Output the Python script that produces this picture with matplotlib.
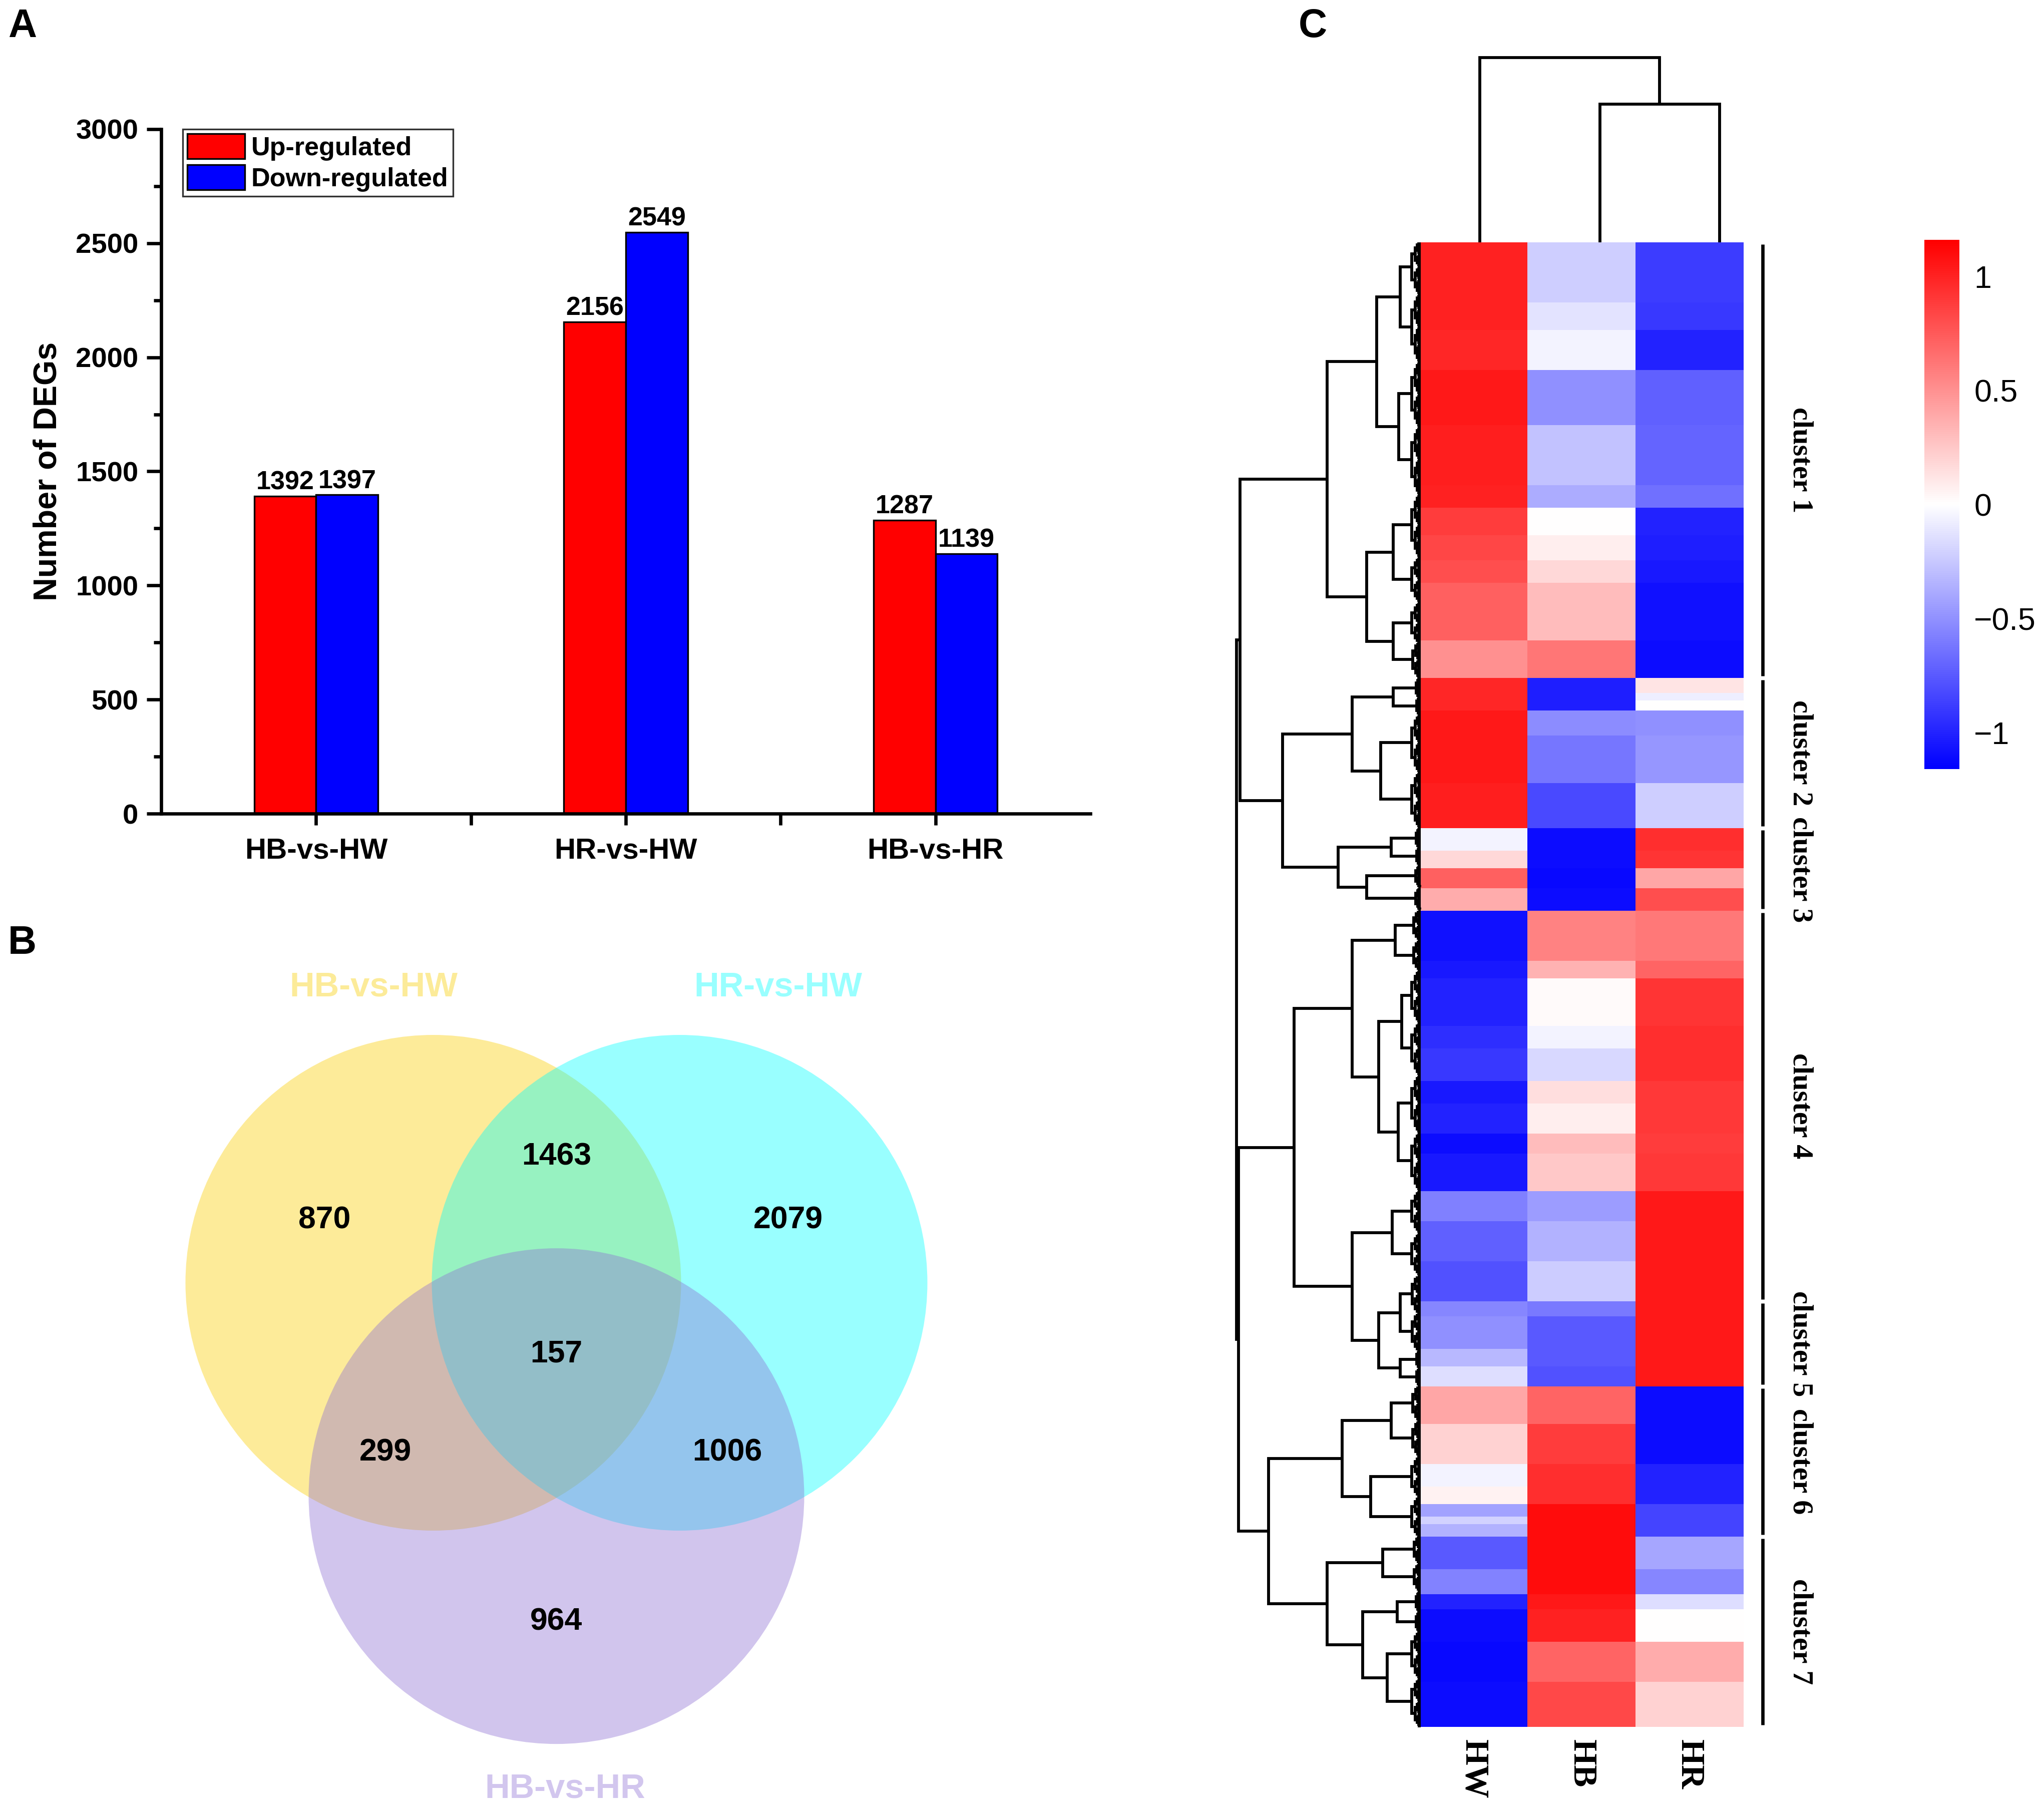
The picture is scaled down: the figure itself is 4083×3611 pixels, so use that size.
import numpy as np
import matplotlib
matplotlib.use('Agg')
import matplotlib.pyplot as plt
from matplotlib.patches import Circle
from matplotlib.collections import LineCollection

plt.rcParams['font.family'] = ['Liberation Sans', 'DejaVu Sans']
SERIF = ['Liberation Serif', 'DejaVu Serif']

# ---- A: number of DEGs per comparison
comparisons = ['HB-vs-HW', 'HR-vs-HW', 'HB-vs-HR']
up_regulated = [1392, 2156, 1287]
down_regulated = [1397, 2549, 1139]

# ---- B: venn (region membership -> count)
venn_labels = ['HB-vs-HW', 'HR-vs-HW', 'HB-vs-HR']
venn_regions = ['100', '010', '001', '110', '101', '011', '111']
venn_counts = [870, 2079, 964, 1463, 299, 1006, 157]

# ---- C: clustered heatmap (row blocks, scaled expression)
samples = ['HW', 'HB', 'HR']
block_rows = [24, 11, 16, 22, 24, 9, 11, 10, 9, 23, 15,
              6, 3, 4, 10, 19, 18,
              9, 7, 8, 9,
              20, 7, 19, 9, 13, 9, 12, 8, 15, 12, 16, 16,
              6, 13, 7, 8,
              15, 16, 9, 7, 5, 3, 5,
              13, 10, 6, 13, 16, 18]
hw_values = [1.0, 1.0, 0.98, 1.05, 1.02, 1.0, 0.88, 0.84, 0.8, 0.72, 0.5,
             0.98, 0.98, 0.98, 1.05, 1.05, 1.02,
             -0.05, 0.18, 0.72, 0.38,
             -1.08, -1.05, -1.0, -0.95, -0.9, -1.05, -1.0, -1.1, -1.05, -0.58, -0.72, -0.78,
             -0.55, -0.5, -0.32, -0.15,
             0.4, 0.2, -0.05, 0.06, -0.42, -0.2, -0.35,
             -0.75, -0.57, -1.0, -1.1, -1.12, -1.1]
hb_values = [-0.22, -0.12, -0.05, -0.5, -0.28, -0.38, 0.0, 0.08, 0.18, 0.3, 0.62,
             -1.02, -1.02, -1.02, -0.52, -0.62, -0.82,
             -1.1, -1.1, -1.12, -1.1,
             0.57, 0.35, 0.02, -0.05, -0.18, 0.15, 0.08, 0.3, 0.25, -0.45, -0.35, -0.23,
             -0.6, -0.75, -0.75, -0.78,
             0.7, 0.88, 0.95, 0.95, 1.1, 1.1, 1.1,
             1.1, 1.1, 1.05, 1.0, 0.7, 0.83]
hr_values = [-0.88, -0.9, -1.0, -0.72, -0.7, -0.65, -1.0, -1.02, -1.05, -1.08, -1.1,
             0.12, -0.08, 0.0, -0.5, -0.48, -0.22,
             0.95, 0.92, 0.4, 0.8,
             0.61, 0.7, 0.92, 0.95, 0.95, 0.9, 0.9, 0.88, 0.9, 1.05, 1.05, 1.05,
             1.05, 1.05, 1.05, 1.05,
             -1.1, -1.1, -1.0, -1.0, -0.85, -0.85, -0.85,
             -0.4, -0.55, -0.15, 0.0, 0.38, 0.2]
cluster_names = ['cluster 1', 'cluster 2', 'cluster 3', 'cluster 4',
                 'cluster 5', 'cluster 6', 'cluster 7']
cluster_rows = [174, 60, 33, 156, 34, 60, 76]

# dendrograms: [height, child, child]; column leaves are sample indices,
# row leaves are numbers of rows
col_tree = [1.0, 0, [0.748, 1, 2]]
row_tree = [1.0,
            [0.981,
             [0.508,
              [0.239, [0.111, 21, 27], [0.12, 26, 27]],
              [0.293, [0.149, 25, 18], [0.149, 16, 14]]],
             [0.75,
              [0.372, [0.149, 8, 7], [0.217, 23, 22]],
              [0.448, [0.16, 8, 7], [0.293, 9, 9]]]],
            [0.989,
             [0.688,
              [0.372, [0.139, 12, 12], [0.228, [0.103, 21, 21], [0.122, 23, 23]]],
              [0.372, [0.155, 17, 17], [0.228, [0.111, 15, 15], [0.111, 7, 7]]]],
             [0.826,
              [0.427, [0.16, 14, 14], [0.272, 16, 16]],
              [0.508, [0.207, 11, 11], [0.315, [0.128, 8, 8], [0.182, 19, 19]]]]]]

W, H, DPI = 4083, 3611, 300
fig = plt.figure(figsize=(W / DPI, H / DPI), dpi=DPI)


def px_axes(x0, y0, x1, y1):
    return fig.add_axes([x0 / W, 1 - y1 / H, (x1 - x0) / W, (y1 - y0) / H])


# ================= A: bar chart =================
ax = px_axes(322, 258, 2178, 1625)
x = np.arange(len(comparisons))
bw = 0.2
ax.bar(x - bw / 2, up_regulated, bw, color='#FF0000', edgecolor='black',
       linewidth=0.8, label='Up-regulated')
ax.bar(x + bw / 2, down_regulated, bw, color='#0000FF', edgecolor='black',
       linewidth=0.8, label='Down-regulated')
for xs, vals in [(x - bw / 2, up_regulated), (x + bw / 2, down_regulated)]:
    for xi, v in zip(xs, vals):
        ax.text(xi, v + 5, str(v), ha='center', va='bottom',
                fontsize=12.5, fontweight='bold')
ax.set_xlim(-0.5, 2.5)
ax.set_ylim(0, 3000)
ax.set_yticks(np.arange(0, 3001, 500))
ax.set_yticks(np.arange(250, 3000, 500), minor=True)
ax.set_xticks(x)
ax.set_xticks([0.5, 1.5], minor=True)
ax.set_xticklabels(comparisons)
for s in ['top', 'right']:
    ax.spines[s].set_visible(False)
for s in ['left', 'bottom']:
    ax.spines[s].set_linewidth(1.6)
ax.tick_params(axis='y', which='major', length=7, width=1.6, labelsize=13.5, pad=4)
ax.tick_params(axis='y', which='minor', length=3.5, width=1.6)
ax.tick_params(axis='x', which='both', length=5.5, width=1.6, labelsize=14, pad=6)
for lab in ax.get_xticklabels() + ax.get_yticklabels():
    lab.set_fontweight('bold')
ax.set_ylabel('Number of DEGs', fontsize=15.5, fontweight='bold', labelpad=6)
leg = ax.legend(loc='upper left', bbox_to_anchor=(0.023, 1.0), fancybox=False,
                edgecolor='black', prop={'weight': 'bold', 'size': 12.5},
                handlelength=2.2, handleheight=1.1, labelspacing=0.15,
                handletextpad=0.25, borderpad=0.18, borderaxespad=0)
leg.get_frame().set_linewidth(0.8)

# ================= B: venn =================
axv = px_axes(0, 1800, 2223, 3611)
unit = 495.0
axv.set_xlim(-1111.5 / unit, 1111.5 / unit)
axv.set_ylim(-(3611 - 2562) / unit, (2562 - 1800) / unit)
axv.axis('off')
d = 0.994
centers = np.array([[-d / 2, 0.0], [d / 2, 0.0], [0.0, -d * np.sqrt(3) / 2]])
fill_colors = ['#FACD00', '#00FFFF', '#8E70D4']
text_colors = ['#FCEB99', '#99FFFF', '#D2C6EE']
for c, col in zip(centers, fill_colors):
    axv.add_patch(Circle(c, 1.0, facecolor=col, alpha=0.4, edgecolor='none'))
g = centers.mean(axis=0)
for reg, cnt in zip(venn_regions, venn_counts):
    bits = [int(b) for b in reg]
    if sum(bits) == 3:
        pos = g
    elif sum(bits) == 1:
        v = centers[bits.index(1)] - g
        pos = g + 1.08 * v / np.linalg.norm(v)
    else:
        v = g - centers[bits.index(0)]
        pos = g + 0.796 * v / np.linalg.norm(v)
    axv.text(pos[0], pos[1], str(cnt), ha='center', va='center',
             fontsize=15, fontweight='bold')
label_offsets = [(-0.241, 1.192), (0.398, 1.192), (0.035, -1.18)]
for c, off, lab, col in zip(centers, label_offsets, venn_labels, text_colors):
    axv.text(c[0] + off[0], c[1] + off[1], lab, ha='center', va='center',
             fontsize=16.5, fontweight='bold', color=col, clip_on=False)

# ================= C: heatmap =================
n_rows = sum(block_rows)
data = np.column_stack([np.repeat(hw_values, block_rows),
                        np.repeat(hb_values, block_rows),
                        np.repeat(hr_values, block_rows)])
axh = px_axes(2836, 484, 3555, 3449)
im = axh.imshow(data, cmap='bwr', vmin=-1.16, vmax=1.16, aspect='auto',
                interpolation='nearest', extent=(0, 3, n_rows, 0))
for s in axh.spines.values():
    s.set_visible(False)
axh.set_yticks([])
axh.set_xticks(np.arange(3) + 0.5)
axh.set_xticklabels(samples, rotation=270, fontsize=16, fontweight='bold',
                    family=SERIF)
axh.tick_params(axis='x', length=0, pad=6)

# cluster bars and labels
start = 0
for name, n in zip(cluster_names, cluster_rows):
    axh.plot([3.18, 3.18], [start + 0.8, start + n - 0.8], color='black',
             lw=1.6, clip_on=False, solid_capstyle='butt')
    axh.text(3.53, start + n / 2, name, rotation=270, ha='center', va='center',
             fontsize=14, fontweight='bold', family=SERIF, clip_on=False)
    start += n

# row dendrogram
segs = []


def comb(s, n, h):
    if n == 1:
        return s + 0.5, 0.0
    n1 = n // 2
    ya, ha = comb(s, n1, h * 0.62)
    yb, hb = comb(s + n1, n - n1, h * 0.62)
    segs.append([(ha, ya), (h, ya), (h, yb), (hb, yb)])
    return (ya + yb) / 2, h


def draw_rows(node, s):
    if isinstance(node, int):
        y, h = comb(s, node, 0.05 * min(1.0, node / 16))
        return y, h, s + node
    h, a, b = node
    ya, ha, mid = draw_rows(a, s)
    yb, hb, end = draw_rows(b, mid)
    segs.append([(ha, ya), (h, ya), (h, yb), (hb, yb)])
    return (ya + yb) / 2, h, end


axd = px_axes(2470, 484, 2838, 3449)
draw_rows(row_tree, 0)
axd.add_collection(LineCollection(segs, colors='black', linewidths=1.4,
                                  clip_on=False, joinstyle='miter'))
axd.set_xlim(1.0, 0.0)
axd.set_ylim(n_rows, 0)
axd.axis('off')

# column dendrogram
csegs = []


def draw_cols(node):
    if isinstance(node, int):
        return node + 0.5, 0.0
    h, a, b = node
    xa, ha = draw_cols(a)
    xb, hb = draw_cols(b)
    csegs.append([(xa, ha), (xa, h), (xb, h), (xb, hb)])
    return (xa + xb) / 2, h


axc = px_axes(2836, 115, 3555, 484)
draw_cols(col_tree)
axc.add_collection(LineCollection(csegs, colors='black', linewidths=1.4,
                                  clip_on=False, joinstyle='miter'))
axc.set_xlim(0, 3)
axc.set_ylim(0, 1)
axc.axis('off')

# colorbar
cax = px_axes(3844, 479, 3914, 1536)
cb = fig.colorbar(im, cax=cax, ticks=[-1, -0.5, 0, 0.5, 1])
cb.set_ticklabels(['\u22121', '\u22120.5', '0', '0.5', '1'])
cb.outline.set_visible(False)
cax.tick_params(length=0, labelsize=15, pad=7)

# panel letters
for lab, px, py in [('A', 16, 16), ('B', 16, 1847), ('C', 2594, 16)]:
    fig.text(px / W, 1 - py / H, lab, ha='left', va='top', fontsize=19,
             fontweight='bold')

fig.savefig('out.png', dpi=DPI)
